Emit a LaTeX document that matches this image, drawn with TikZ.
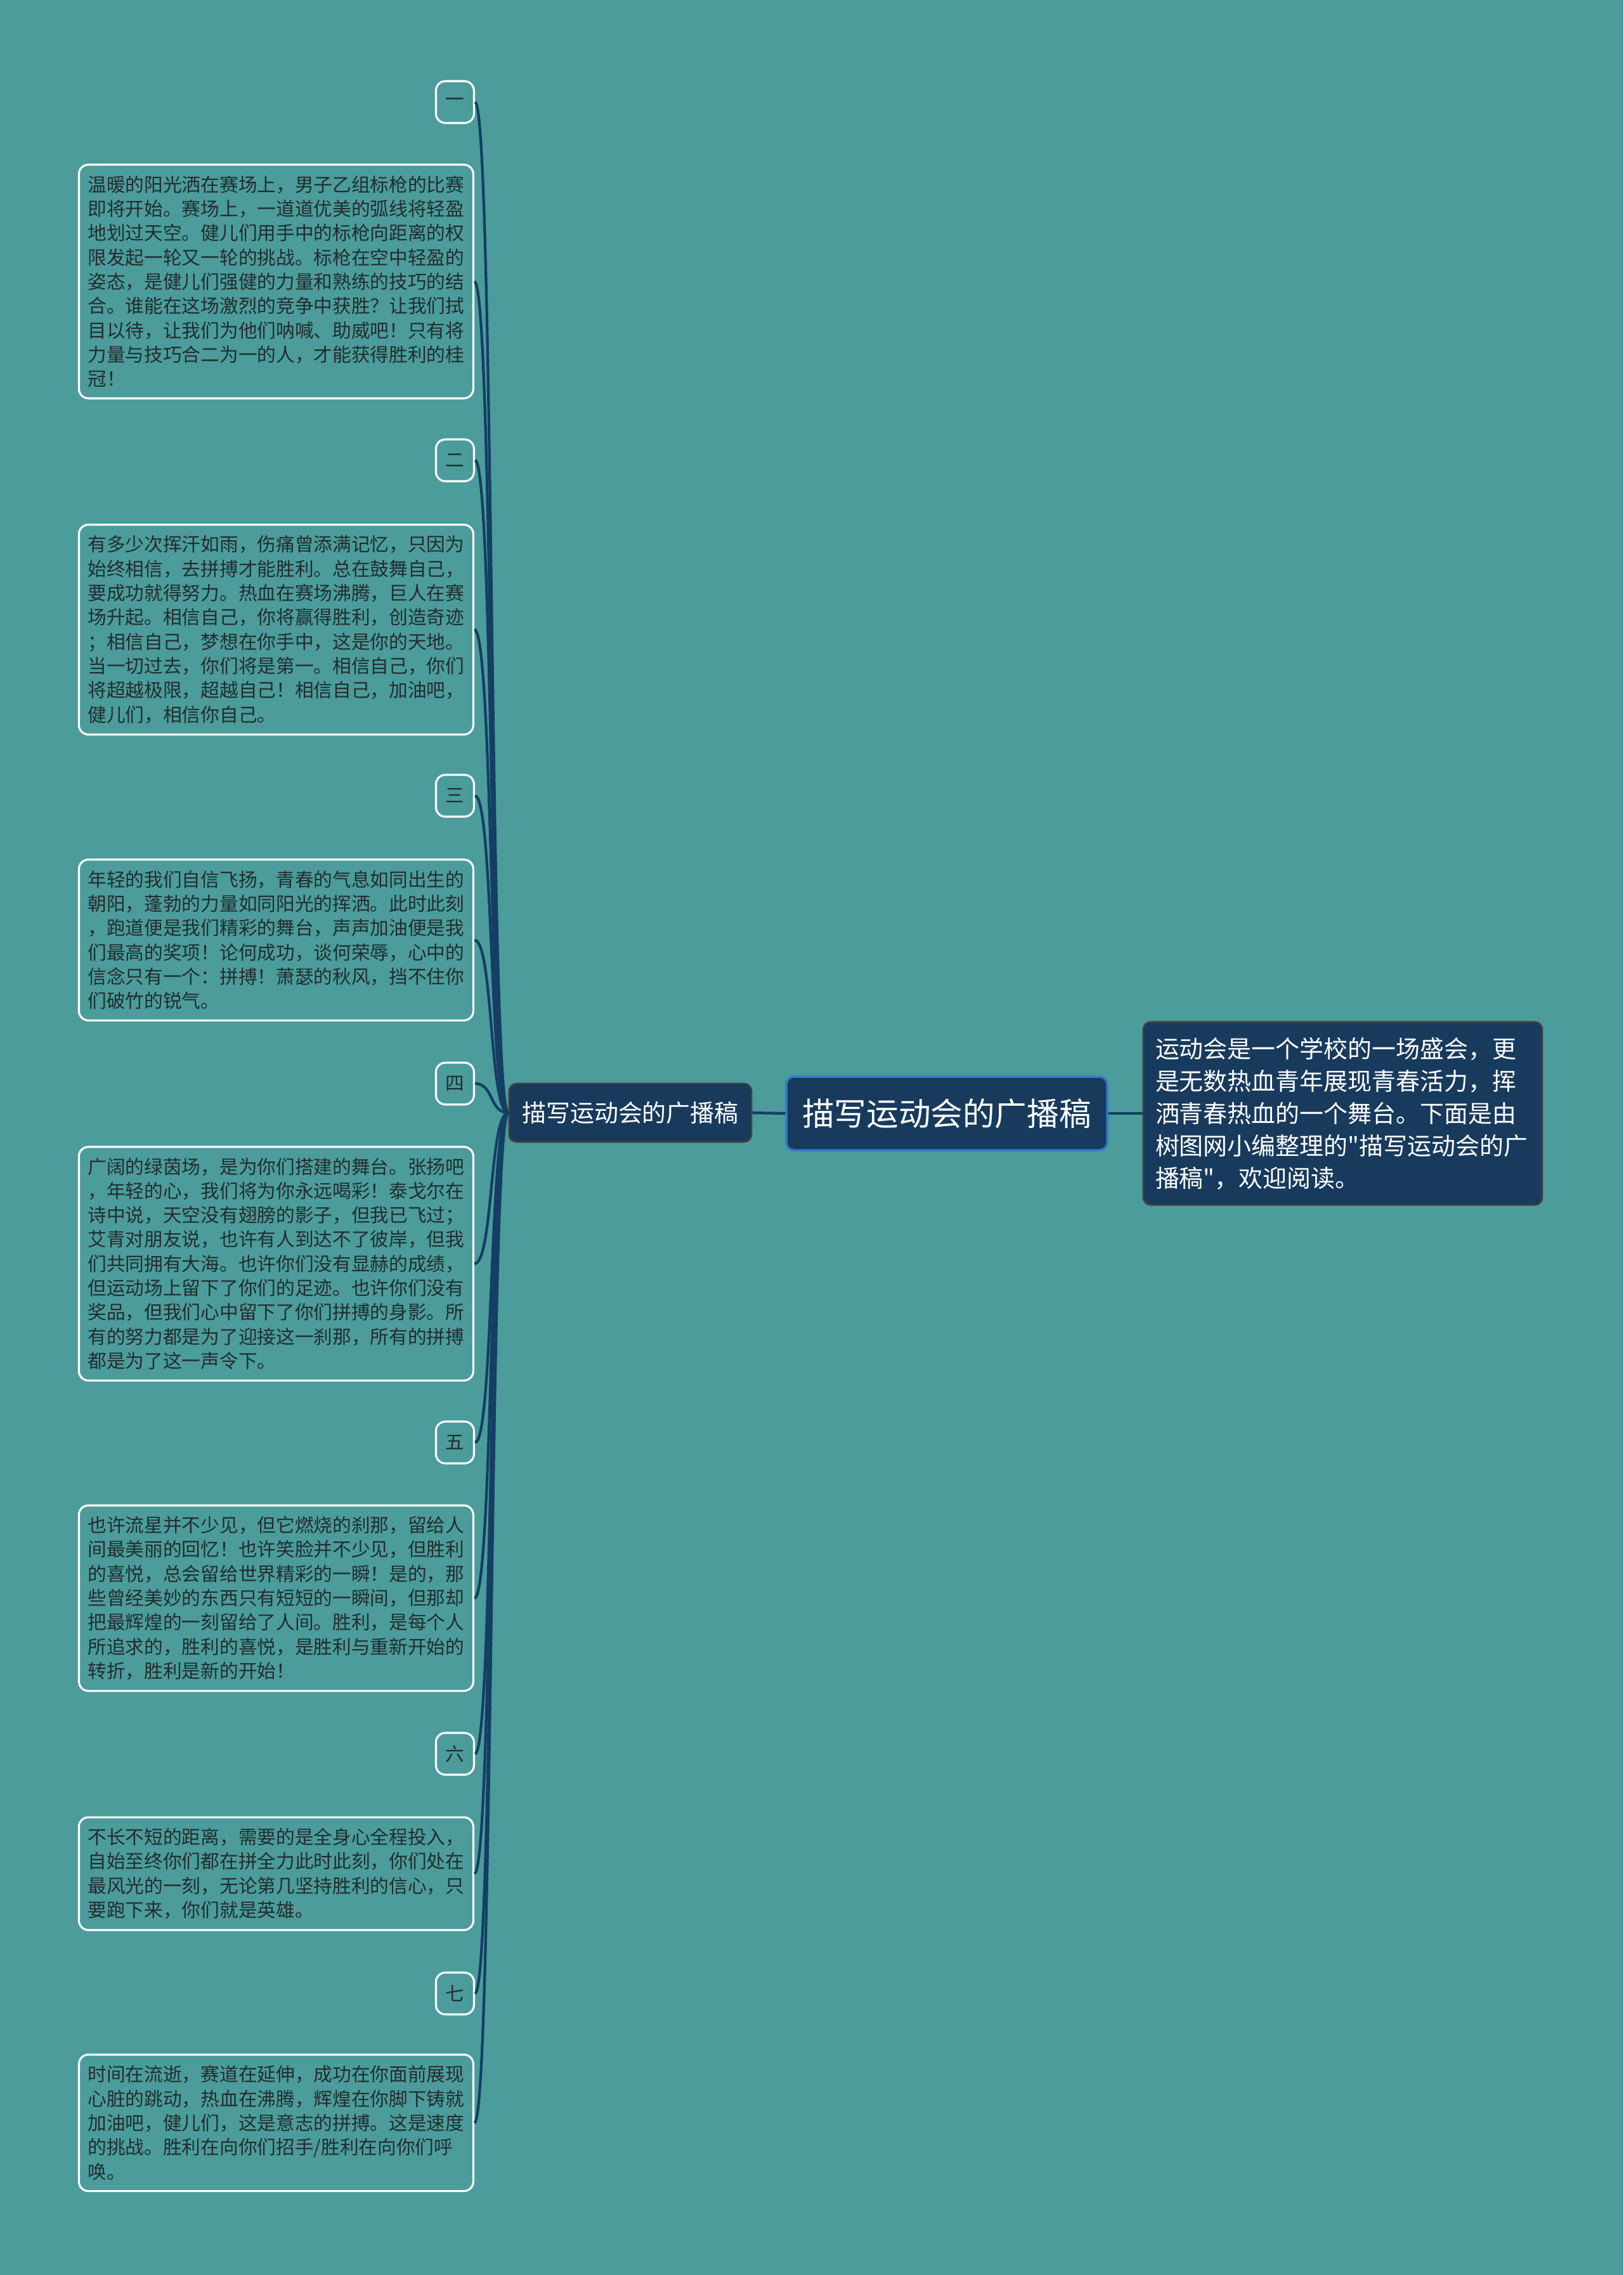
\documentclass[tikz,border=0pt]{standalone}
\usepackage{fontspec}
\setmainfont{Noto Sans CJK SC}[Ligatures=TeXOff]
\usepackage{xcolor}
\usetikzlibrary{positioning}

\definecolor{bgteal}{RGB}{75,156,155}
\definecolor{navy}{RGB}{23,58,93}
\definecolor{rootblue}{RGB}{52,120,205}
\definecolor{inkgray}{RGB}{35,45,45}
\definecolor{branchnavy}{RGB}{20,62,100}

\begin{document}
\begin{tikzpicture}[
        leaf/.style={draw=white, line width=0.9pt, rounded corners=0.15cm, text=inkgray,
            font=\fontsize{8.45}{10.9}\selectfont, align=left, text width=5.94cm,
            inner xsep=0.14cm, inner ysep=4.9pt, anchor=east},
        tag/.style={draw=white, line width=0.9pt, rounded corners=0.15cm, text=inkgray,
            font=\fontsize{8.45}{10.9}\selectfont, minimum width=0.6cm, minimum height=0.66cm,
            inner sep=0pt, anchor=east},
        root/.style={draw=rootblue, line width=1pt, fill=navy, rounded corners=0.12cm, text=white,
            font=\fontsize{14.4}{17}\selectfont, minimum width=5.06cm, minimum height=1.16cm},
        topic/.style={draw=black!75, line width=0.8pt, fill=navy, rounded corners=0.12cm, text=white,
            font=\fontsize{10.8}{13}\selectfont, minimum width=3.82cm, minimum height=0.92cm},
        note/.style={draw=black!75, line width=0.8pt, fill=navy, rounded corners=0.12cm, text=white,
            font=\fontsize{10.8}{14.5}\selectfont, align=left, text width=5.91cm,
            inner xsep=0.19cm, inner ysep=6.9pt},
        branch/.style={draw=branchnavy, line width=1.2pt}
    ]

    % background
    \fill[bgteal] (0,0) rectangle (25.6,-35.88);
    \useasboundingbox (0,0) rectangle (25.6,-35.88);

    % centre
    \node[root] (root) at (14.93,-17.56) {描写运动会的广播稿};
    \node[topic] (topic) at (9.94,-17.55) {描写运动会的广播稿};
    \node[note] (note) at (21.175,-17.56) {运动会是一个学校的一场盛会，更\\是无数热血青年展现青春活力，挥\\洒青春热血的一个舞台。下面是由\\树图网小编整理的"描写运动会的广\\播稿"，欢迎阅读。};

    % left side
    \node[tag] (tag1) at (7.49,-1.61) {一};
    \node[leaf] (leaf1) at (7.48,-4.44) {温暖的阳光洒在赛场上，男子乙组标枪的比赛\\即将开始。赛场上，一道道优美的弧线将轻盈\\地划过天空。健儿们用手中的标枪向距离的权\\限发起一轮又一轮的挑战。标枪在空中轻盈的\\姿态，是健儿们强健的力量和熟练的技巧的结\\合。谁能在这场激烈的竞争中获胜？让我们拭\\目以待，让我们为他们呐喊、助威吧！只有将\\力量与技巧合二为一的人，才能获得胜利的桂\\冠！};
    \node[tag] (tag2) at (7.49,-7.26) {二};
    \node[leaf] (leaf2) at (7.48,-9.93) {有多少次挥汗如雨，伤痛曾添满记忆，只因为\\始终相信，去拼搏才能胜利。总在鼓舞自己，\\要成功就得努力。热血在赛场沸腾，巨人在赛\\场升起。相信自己，你将赢得胜利，创造奇迹\\；相信自己，梦想在你手中，这是你的天地。\\当一切过去，你们将是第一。相信自己，你们\\将超越极限，超越自己！相信自己，加油吧，\\健儿们，相信你自己。};
    \node[tag] (tag3) at (7.49,-12.55) {三};
    \node[leaf] (leaf3) at (7.48,-14.825) {年轻的我们自信飞扬，青春的气息如同出生的\\朝阳，蓬勃的力量如同阳光的挥洒。此时此刻\\，跑道便是我们精彩的舞台，声声加油便是我\\们最高的奖项！论何成功，谈何荣辱，心中的\\信念只有一个：拼搏！萧瑟的秋风，挡不住你\\们破竹的锐气。};
    \node[tag] (tag4) at (7.49,-17.09) {四};
    \node[leaf] (leaf4) at (7.48,-19.93) {广阔的绿茵场，是为你们搭建的舞台。张扬吧\\，年轻的心，我们将为你永远喝彩！泰戈尔在\\诗中说，天空没有翅膀的影子，但我已飞过；\\艾青对朋友说，也许有人到达不了彼岸，但我\\们共同拥有大海。也许你们没有显赫的成绩，\\但运动场上留下了你们的足迹。也许你们没有\\奖品，但我们心中留下了你们拼搏的身影。所\\有的努力都是为了迎接这一刹那，所有的拼搏\\都是为了这一声令下。};
    \node[tag] (tag5) at (7.49,-22.75) {五};
    \node[leaf] (leaf5) at (7.48,-25.205) {也许流星并不少见，但它燃烧的刹那，留给人\\间最美丽的回忆！也许笑脸并不少见，但胜利\\的喜悦，总会留给世界精彩的一瞬！是的，那\\些曾经美妙的东西只有短短的一瞬间，但那却\\把最辉煌的一刻留给了人间。胜利，是每个人\\所追求的，胜利的喜悦，是胜利与重新开始的\\转折，胜利是新的开始！};
    \node[tag] (tag6) at (7.49,-27.66) {六};
    \node[leaf] (leaf6) at (7.48,-29.55) {不长不短的距离，需要的是全身心全程投入，\\自始至终你们都在拼全力此时此刻，你们处在\\最风光的一刻，无论第几坚持胜利的信心，只\\要跑下来，你们就是英雄。};
    \node[tag] (tag7) at (7.49,-31.44) {七};
    \node[leaf] (leaf7) at (7.48,-33.48) {时间在流逝，赛道在延伸，成功在你面前展现\\心脏的跳动，热血在沸腾，辉煌在你脚下铸就\\加油吧，健儿们，这是意志的拼搏。这是速度\\的挑战。胜利在向你们招手/胜利在向你们呼\\唤。};

    % connectors
    \draw[branch] (root.east) -- (note.west);
    \draw[branch] (root.west) -- (topic.east);
    \draw[branch] (topic.west) .. controls +(-0.3,0) and +(0.3,0) .. (tag1.east);
    \draw[branch] (topic.west) .. controls +(-0.3,0) and +(0.3,0) .. (leaf1.east);
    \draw[branch] (topic.west) .. controls +(-0.3,0) and +(0.3,0) .. (tag2.east);
    \draw[branch] (topic.west) .. controls +(-0.3,0) and +(0.3,0) .. (leaf2.east);
    \draw[branch] (topic.west) .. controls +(-0.3,0) and +(0.3,0) .. (tag3.east);
    \draw[branch] (topic.west) .. controls +(-0.3,0) and +(0.3,0) .. (leaf3.east);
    \draw[branch] (topic.west) .. controls +(-0.3,0) and +(0.3,0) .. (tag4.east);
    \draw[branch] (topic.west) .. controls +(-0.3,0) and +(0.3,0) .. (leaf4.east);
    \draw[branch] (topic.west) .. controls +(-0.3,0) and +(0.3,0) .. (tag5.east);
    \draw[branch] (topic.west) .. controls +(-0.3,0) and +(0.3,0) .. (leaf5.east);
    \draw[branch] (topic.west) .. controls +(-0.3,0) and +(0.3,0) .. (tag6.east);
    \draw[branch] (topic.west) .. controls +(-0.3,0) and +(0.3,0) .. (leaf6.east);
    \draw[branch] (topic.west) .. controls +(-0.3,0) and +(0.3,0) .. (tag7.east);
    \draw[branch] (topic.west) .. controls +(-0.3,0) and +(0.3,0) .. (leaf7.east);

\end{tikzpicture}
\end{document}
